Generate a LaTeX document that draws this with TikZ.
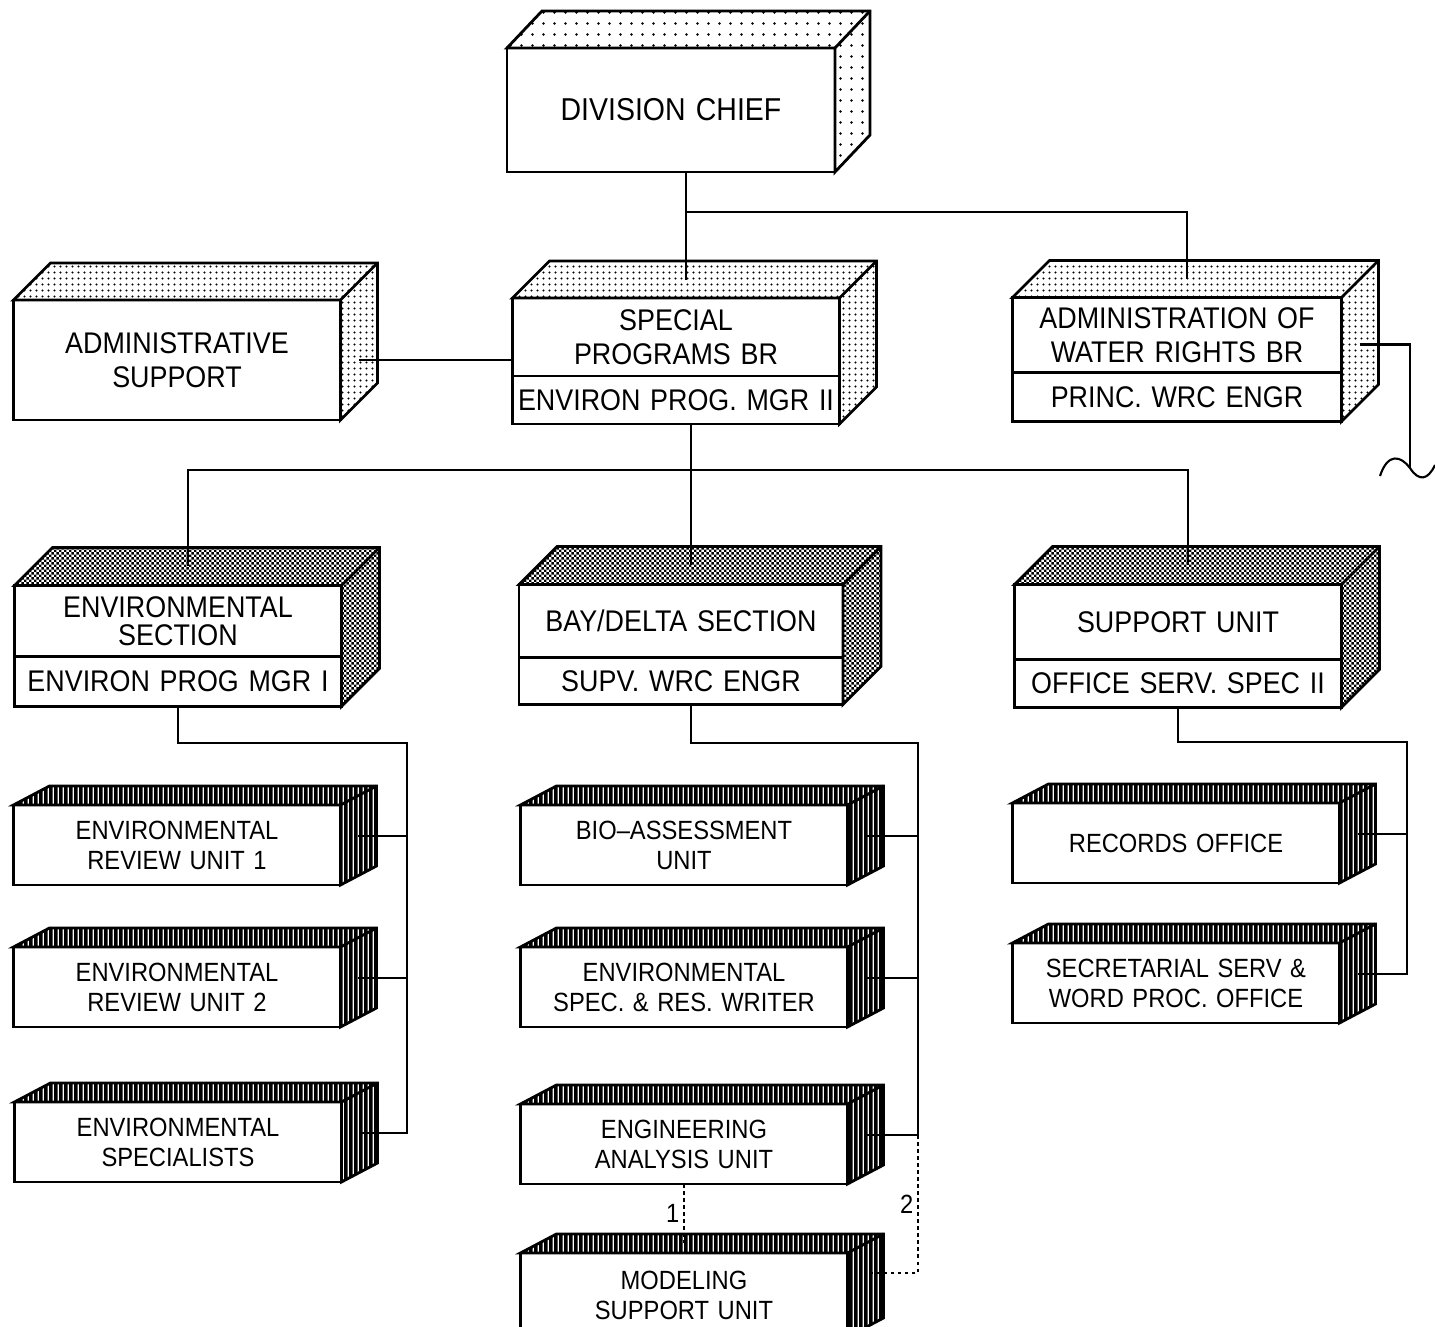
\documentclass[tikz,border=0pt]{standalone}
\usepackage{fontspec}
\setmainfont[FakeStretch=0.9,WordSpace=1.3]{Liberation Sans}
\usepackage{tikz}
\usetikzlibrary{patterns.meta}
\usetikzlibrary{positioning}

\tikzdeclarepattern{name=sparse dots, type=uncolored,
  bottom left={(0mm,0mm)}, top right={(1.1mm,1.1mm)}, tile size={(1.1mm,1.1mm)},
  code={\fill (0.55mm,0.55mm) circle (0.13mm);}}
\tikzdeclarepattern{name=fine dots, type=uncolored,
  bottom left={(0mm,0mm)}, top right={(0.55mm,0.55mm)}, tile size={(0.55mm,0.55mm)},
  code={\fill (0.275mm,0.275mm) circle (0.12mm);}}
\tikzdeclarepattern{name=checker dots, type=uncolored,
  bottom left={(0mm,0mm)}, top right={(0.5mm,0.5mm)}, tile size={(0.5mm,0.5mm)},
  code={\fill (0mm,0mm) rectangle (0.25mm,0.25mm); \fill (0.25mm,0.25mm) rectangle (0.5mm,0.5mm);}}
\tikzdeclarepattern{name=dark bars, type=uncolored,
  bottom left={(0mm,0mm)}, top right={(0.5mm,0.7mm)}, tile size={(0.5mm,0.7mm)},
  code={\fill (0mm,0mm) rectangle (0.36mm,0.7mm);}}

\tikzset{
  front/.style={draw, thick, fill=white, inner sep=0pt, outer sep=0pt, align=center, minimum width=32.7mm, font=\fontsize{8.5}{9.6}\selectfont},
  unit/.style={front, minimum height=8mm, font=\fontsize{7.5}{8.5}\selectfont},
  chiefface/.style={draw, thick, preaction={fill=white}, pattern=sparse dots},
  branchface/.style={draw, thick, preaction={fill=white}, pattern=fine dots},
  sectionface/.style={draw, thick, preaction={fill=white}, pattern=checker dots},
  unitface/.style={draw, thick, preaction={fill=white}, pattern=dark bars},
  link/.style={semithick},
  maybe/.style={semithick, dash pattern=on 1pt off 1pt},
  lbl/.style={font=\fontsize{7.5}{8.5}\selectfont, inner sep=1pt}
}

\begin{document}
\begin{tikzpicture}[x=0.1mm, y=-0.1mm]
\useasboundingbox (0,0) rectangle (1435,1327);

% front faces
\node[front, minimum width=32.8mm, minimum height=12.4mm, font=\fontsize{9}{10}\selectfont] (chief) at (671,110) {DIVISION CHIEF};

\node[front, minimum height=12mm] (admsup) at (177,360) {ADMINISTRATIVE\\SUPPORT};
\node[front, minimum height=7.8mm] (special) at (676,337) {SPECIAL\\PROGRAMS BR};
\node[front, minimum height=4.8mm, below=0pt of special] (specialg) {ENVIRON PROG. MGR II};
\node[front, minimum width=32.9mm, minimum height=7.5mm] (water) at (1177,335) {ADMINISTRATION OF\\WATER RIGHTS BR};
\node[front, minimum width=32.9mm, minimum height=4.9mm, below=0pt of water] (waterg) {PRINC. WRC ENGR};

\node[front, minimum height=7.1mm, font=\fontsize{8.5}{7.9}\selectfont] (envsec) at (178,621) {ENVIRONMENTAL\\SECTION};
\node[front, minimum height=5mm, below=0pt of envsec] (envsecg) {ENVIRON PROG MGR I};
\node[front, minimum width=32.4mm, minimum height=7.3mm] (baydelta) at (681,621) {BAY/DELTA SECTION};
\node[front, minimum width=32.4mm, minimum height=4.7mm, below=0pt of baydelta] (baydeltag) {SUPV. WRC ENGR};
\node[front, minimum height=7.5mm] (support) at (1178,622) {SUPPORT UNIT};
\node[front, minimum height=4.8mm, below=0pt of support] (supportg) {OFFICE SERV. SPEC II};

\node[unit] (eru1) at (177,845) {ENVIRONMENTAL\\REVIEW UNIT 1};
\node[unit] (eru2) at (177,987) {ENVIRONMENTAL\\REVIEW UNIT 2};
\node[unit] (envspec) at (178,1142) {ENVIRONMENTAL\\SPECIALISTS};
\node[unit] (bio) at (684,845) {BIO--ASSESSMENT\\UNIT};
\node[unit] (envwriter) at (684,987) {ENVIRONMENTAL\\SPEC. \& RES. WRITER};
\node[unit] (enganal) at (684,1144) {ENGINEERING\\ANALYSIS UNIT};
\node[unit, minimum height=8.4mm] (modeling) at (684,1295) {MODELING\\SUPPORT UNIT};
\node[unit] (records) at (1176,843) {RECORDS OFFICE};
\node[unit] (secret) at (1176,983) {SECRETARIAL SERV \&\\WORD PROC. OFFICE};

% top and side faces
\draw[chiefface] (chief.north west) -- ++(35,-37) -| ([shift={(35,-37)}]chief.south east) -- (chief.south east) -- (chief.north east) -- cycle;
\draw[thick] (chief.north east) -- ++(35,-37);

\foreach \top/\bot in {admsup/admsup, special/specialg, water/waterg} {
  \draw[branchface] (\top.north west) -- ++(37,-37) -| ([shift={(37,-37)}]\bot.south east) -- (\bot.south east) -- (\top.north east) -- cycle;
  \draw[thick] (\top.north east) -- ++(37,-37);
  \coordinate (\top-top) at ([shift={(10,-18)}]\top.north);
}
\foreach \top/\bot in {envsec/envsecg, baydelta/baydeltag, support/supportg} {
  \draw[sectionface] (\top.north west) -- ++(38,-38) -| ([shift={(38,-38)}]\bot.south east) -- (\bot.south east) -- (\top.north east) -- cycle;
  \draw[thick] (\top.north east) -- ++(38,-38);
  \coordinate (\top-top) at ([shift={(10,-19)}]\top.north);
}
\foreach \n in {eru1, eru2, envspec, bio, envwriter, enganal, modeling, records, secret} {
  \draw[unitface] (\n.north west) -- ++(36,-19) -| ([shift={(36,-19)}]\n.south east) -- (\n.south east) -- (\n.north east) -- cycle;
  \draw[thick] (\n.north east) -- ++(36,-19);
  \coordinate (\n-side) at ([shift={(18,-9)}]\n.east);
}
\coordinate (modeling-top) at ([shift={(0,-10)}]modeling.north);
\coordinate (modeling-side) at ([shift={(18,-22)}]modeling.east);
\coordinate (water-side) at ([shift={(18,-28)}]water.south east);

% connectors
\coordinate (hubtop) at (686,212);
\coordinate (hubmid) at (691,470);
\coordinate (envbus) at (407,743);
\coordinate (baybus) at (918,743);
\coordinate (supbus) at (1407,742);
\coordinate (cut) at (1410,468);

\draw[link] (chief.south -| special-top) -- (special-top);
\draw[link] (hubtop) -| (water-top);
\draw[link] ([shift={(19,0)}]admsup.east) -- (admsup.east -| special.west);
\draw[link] (water-side) -| (cut);
\draw[link] (1380,476) .. controls (1388,452) and (1401,456) .. (cut) .. controls (1419,482) and (1428,480) .. (1435,465);

\draw[link] (specialg.south -| baydelta-top) -- (baydelta-top);
\draw[link] (envsec-top) |- (hubmid) -| (support-top);

\draw[link] (envsecg.south) |- (envbus) -- (envbus |- envspec-side) -- (envspec-side);
\foreach \n in {eru1, eru2}
  \draw[link] (\n-side) -- (\n-side -| envbus);

\draw[link] (baydeltag.south -| baydelta-top) |- (baybus) -- (baybus |- enganal-side) -- (enganal-side);
\foreach \n in {bio, envwriter}
  \draw[link] (\n-side) -- (\n-side -| baybus);
\draw[maybe] (enganal.south) -- (modeling-top) node[midway, left, lbl] {1};
\draw[maybe] (baybus |- enganal-side) -- (baybus |- modeling-side) node[midway, left, lbl] {2} -- (modeling-side);

\draw[link] (supportg.south) |- (supbus) -- (supbus |- secret-side) -- (secret-side);
\draw[link] (records-side) -- (records-side -| supbus);
\end{tikzpicture}
\end{document}
